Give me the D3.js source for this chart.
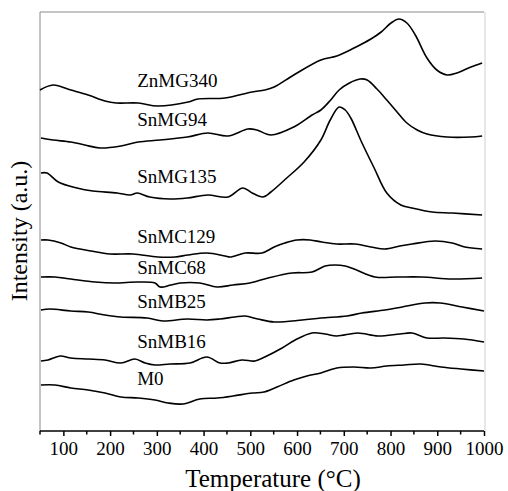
<!DOCTYPE html>
<html>
<head>
<meta charset="utf-8">
<script src="https://cdn.jsdelivr.net/npm/d3@7"></script>
<style>
  body { margin: 0; background: #fff; }
  svg text { font-family: "Liberation Serif", "Times New Roman", Times, serif; fill: #000; }
</style>
</head>
<body>
<div id="container"></div>
<script>
// data: [temperature °C, intensity a.u.]
var ZnMG340 = [[50,341],[78,346],[116,341],[153,336],[189,330],[213,328],[260,328],[302,325],[367,329],[388,332],[446,333],[504,339],[531,341],[551,344],[593,356],[651,371],[685,375],[722,383],[758,392],[780,399],[801,408],[818,412],[835,408],[853,396],[878,373],[899,361],[921,356],[942,358],[972,364],[996,368]];
var SnMG94 = [[52,293],[78,291],[116,289],[146,286],[178,283],[223,285],[260,289],[307,291],[365,294],[409,298],[452,295],[495,302],[514,301],[544,296],[593,304],[632,316],[651,321],[672,331],[690,341],[712,348],[735,352],[750,351],[771,342],[792,331],[814,319],[835,308],[857,301],[878,297],[921,294],[972,294],[996,295]];
var SnMG135 = [[52,258],[65,258],[89,249],[129,243],[163,240],[215,238],[243,236],[258,238],[285,234],[328,232],[365,233],[409,236],[452,234],[484,243],[504,238],[527,234],[544,239],[578,253],[615,269],[651,291],[671,311],[690,324],[703,321],[715,313],[737,290],[765,263],[792,238],[822,226],[846,223],[889,219],[932,218],[996,216]];
var SnMC129 = [[52,191],[67,191],[95,188],[116,184],[159,180],[200,177],[249,177],[302,174],[339,174],[367,176],[407,178],[446,175],[457,174],[489,178],[525,178],[551,184],[574,188],[600,191],[628,191],[653,189],[685,187],[724,187],[758,184],[788,182],[820,185],[846,187],[895,190],[932,188],[959,184],[996,182]];
var SnMC68 = [[52,154],[82,154],[116,152],[168,149],[210,148],[260,149],[296,148],[307,144],[330,146],[350,148],[392,148],[429,144],[463,146],[499,148],[538,153],[589,158],[632,159],[660,165],[681,166],[703,165],[722,162],[767,154],[814,154],[867,154],[932,152],[996,153]];
var SnMB25 = [[52,121],[71,122],[116,120],[153,119],[189,116],[223,114],[279,113],[313,110],[365,112],[407,111],[435,112],[467,114],[489,115],[516,112],[551,109],[611,111],[651,113],[707,115],[739,118],[788,121],[825,124],[874,128],[906,128],[953,124],[1000,120]];
var SnMB16 = [[52,70],[67,71],[93,75],[116,73],[153,72],[189,71],[223,68],[253,72],[275,68],[296,66],[328,67],[371,68],[407,74],[435,68],[452,68],[482,71],[510,70],[531,74],[568,83],[596,91],[632,98],[660,97],[685,95],[730,98],[773,95],[820,97],[846,98],[878,93],[914,93],[957,92],[1000,89]];
var M0 = [[52,46],[82,46],[116,43],[153,41],[189,38],[223,34],[260,33],[296,31],[324,28],[356,27],[392,32],[429,33],[463,35],[504,38],[529,39],[557,44],[593,51],[621,55],[651,58],[685,63],[722,64],[758,63],[792,65],[829,66],[865,67],[908,64],[951,62],[1000,60]];

var seriesNames = ["ZnMG340","SnMG94","SnMG135","SnMC129","SnMC68","SnMB25","SnMB16","M0"];
var seriesData = [ZnMG340, SnMG94, SnMG135, SnMC129, SnMC68, SnMB25, SnMB16, M0];
// label baselines, in a.u.
var labelLevels = [344, 305, 248, 188, 157, 123, 83, 46];

var majorTicks = [100,200,300,400,500,600,700,800,900,1000];
var minorTicks = [50,150,250,350,450,550,650,750,850,950];

var width = 508, height = 491;
var margin = {top: 12, right: 24, bottom: 60, left: 40};

var svg = d3.select("#container")
  .append("svg")
    .attr("width", width)
    .attr("height", height);

var x = d3.scaleLinear()
    .domain([50, 1000])
    .range([margin.left, width - margin.right]);

var y = d3.scaleLinear()
    .domain([0, 419])
    .range([height - margin.bottom, margin.top]);

// frame
svg.append("line")
    .attr("x1", x(50)).attr("x2", x(1000))
    .attr("y1", margin.top).attr("y2", margin.top)
    .attr("stroke", "#8a8a8a").attr("stroke-width", 1);
svg.append("line")
    .attr("x1", x(1000) + 1).attr("x2", x(1000) + 1)
    .attr("y1", margin.top).attr("y2", y(0))
    .attr("stroke", "#cfcfcf").attr("stroke-width", 1);
svg.append("line")
    .attr("x1", x(50)).attr("x2", x(50))
    .attr("y1", margin.top).attr("y2", y(0))
    .attr("stroke", "#8a8a8a").attr("stroke-width", 1);

// curves
var line = d3.line()
    .x(function(d) { return x(d[0]); })
    .y(function(d) { return y(d[1]); })
    .curve(d3.curveCatmullRom.alpha(0.5));

svg.append("g")
  .selectAll("path")
  .data(seriesData)
  .enter().append("path")
    .attr("d", line)
    .attr("fill", "none")
    .attr("stroke", "#000")
    .attr("stroke-width", 1.6);

// series labels
svg.append("g")
  .selectAll("text")
  .data(seriesNames)
  .enter().append("text")
    .attr("x", x(258))
    .attr("y", function(d, i) { return y(labelLevels[i]); })
    .style("font-size", "19px")
    .text(function(d) { return d; });

// x axis
var xAxis = svg.append("g")
    .attr("transform", "translate(0," + y(0) + ")")
    .call(d3.axisBottom(x).tickValues(majorTicks).tickSize(5).tickSizeOuter(0).tickFormat(d3.format("d")));
xAxis.select(".domain").attr("stroke", "#000").attr("stroke-width", 1.5)
    .attr("d", "M" + x(50) + ",0H" + x(1000));
xAxis.selectAll(".tick line").attr("stroke", "#000").attr("stroke-width", 1.5);
xAxis.selectAll(".tick text")
    .attr("y", 11)
    .style("font-family", "Liberation Serif, serif")
    .style("font-size", "19px");

svg.append("g")
    .attr("transform", "translate(0," + y(0) + ")")
  .selectAll("line")
  .data(minorTicks)
  .enter().append("line")
    .attr("x1", function(d) { return x(d); })
    .attr("x2", function(d) { return x(d); })
    .attr("y1", 0).attr("y2", 3.5)
    .attr("stroke", "#000").attr("stroke-width", 1.5);

// axis titles
svg.append("text")
    .attr("x", (x(50) + x(1000)) / 2 + 11)
    .attr("y", 487)
    .attr("text-anchor", "middle")
    .style("font-size", "25px")
    .text("Temperature (°C)");

svg.append("text")
    .attr("transform", "translate(27," + 231 + ") rotate(-90)")
    .attr("text-anchor", "middle")
    .style("font-size", "24px")
    .text("Intensity (a.u.)");
</script>
</body>
</html>
